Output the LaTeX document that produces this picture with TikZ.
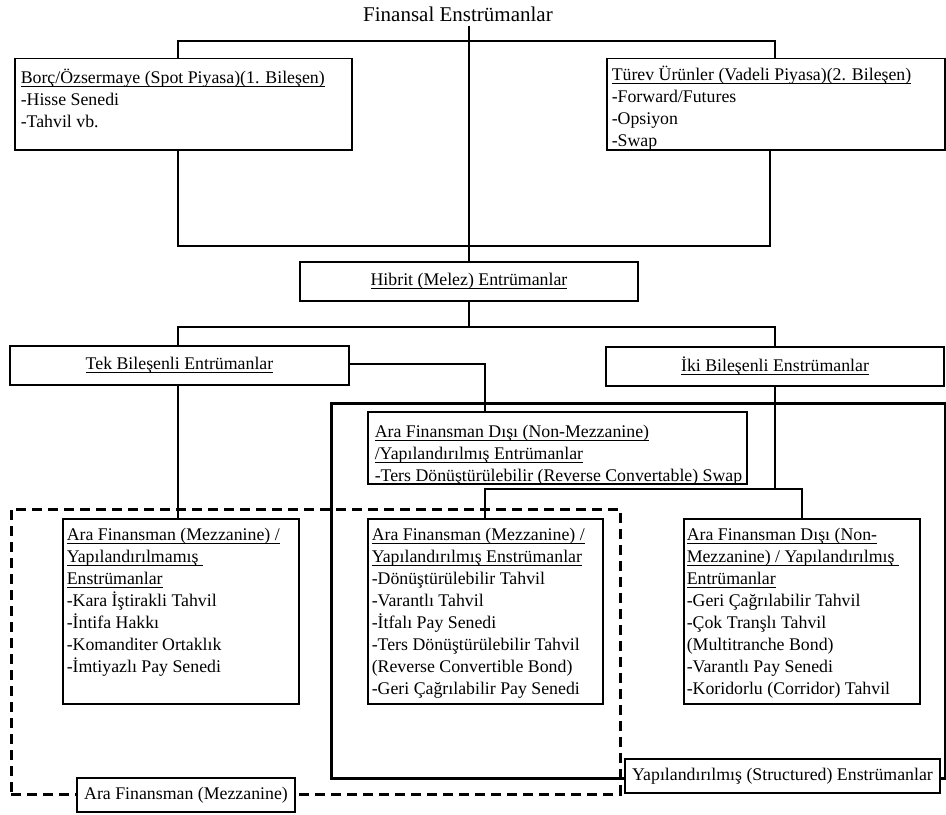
\documentclass[tikz,border=0pt]{standalone}
\usepackage{fontspec}
\setmainfont{Liberation Serif}
% underline at a fixed depth below the baseline
\newcommand\uln[1]{\setbox0\hbox{#1}\rlap{\rule[-3bp]{\wd0}{0.9bp}}\box0}
\begin{document}
\begin{tikzpicture}[x=1bp,y=-1bp,
  line width=1.5bp,
  boxframe/.style={draw, rectangle, inner sep=0pt, anchor=north west, fill=white},
  boxtext/.style={inner sep=0pt, anchor=north west, align=left,
    font=\fontsize{17.8bp}{22bp}\selectfont},
  labelbox/.style={draw, rectangle, inner sep=0pt, fill=white,
    font=\fontsize{17.8bp}{22bp}\selectfont},
  structframe/.style={draw, rectangle, inner sep=0pt, anchor=north west, line width=2.6bp},
  mezzframe/.style={draw, rectangle, inner sep=0pt, anchor=north west, line width=2.6bp,
    dash pattern=on 10bp off 6bp},
  link/.style={draw, line width=1.5bp}]

\useasboundingbox (0,0) rectangle (946,815);

% group frames
\node[structframe, minimum width=614bp, minimum height=375bp] (structured) at (330,402) {};
\node[mezzframe, minimum width=609bp, minimum height=285bp] (mezzanine) at (10,508) {};

% title
\node[inner sep=3bp, anchor=base, font=\fontsize{21bp}{24bp}\selectfont] (title) at (458,21.7) {Finansal Enstrümanlar};

% first level
\node[boxframe, minimum width=337bp, minimum height=91bp] (borc) at (14,58) {};
\node[boxtext] (borctxt) at (20,67.6) {\strut\uln{Borç/Özsermaye (Spot Piyasa)(1. Bileşen)}\\-Hisse Senedi\\-Tahvil vb.};

\node[boxframe, minimum width=338bp, minimum height=91bp] (turev) at (606,58) {};
\node[boxtext] (turevtxt) at (611,64.6) {\strut\uln{Türev Ürünler (Vadeli Piyasa)(2. Bileşen)}\\-Forward/Futures\\-Opsiyon\\-Swap};

% hybrid level
\node[labelbox, minimum width=338bp, minimum height=39bp] (hib) at (469,281.5) {\uln{Hibrit (Melez) Entrümanlar}};
\node[labelbox, minimum width=339bp, minimum height=39bp] (tek) at (179.5,365.5) {\uln{Tek Bileşenli Entrümanlar}};
\node[labelbox, minimum width=338bp, minimum height=39bp] (iki) at (775,366.5) {\uln{İki Bileşenli Enstrümanlar}};

% lower boxes
\node[boxframe, minimum width=379bp, minimum height=72bp] (nm1) at (367,411) {};
\node[boxtext] (nm1txt) at (374,421.6) {\strut\uln{Ara Finansman Dışı (Non-Mezzanine)}\\\uln{/Yapılandırılmış Entrümanlar}\\-Ters Dönüştürülebilir (Reverse Convertable) Swap};

\node[boxframe, minimum width=236bp, minimum height=185bp] (mezL) at (62,518) {};
\node[boxtext] (mezLtxt) at (66,524.6) {\strut\uln{Ara Finansman (Mezzanine) /}\\\uln{Yapılandırılmamış\ }\\\uln{Enstrümanlar}\\-Kara İştirakli Tahvil\\-İntifa Hakkı\\-Komanditer Ortaklık\\-İmtiyazlı Pay Senedi};

\node[boxframe, minimum width=235bp, minimum height=185bp] (mezM) at (367,518) {};
\node[boxtext] (mezMtxt) at (371,524.6) {\strut\uln{Ara Finansman (Mezzanine) /}\\\uln{Yapılandırılmış Enstrümanlar}\\-Dönüştürülebilir Tahvil\\-Varantlı Tahvil\\-İtfalı Pay Senedi\\-Ters Dönüştürülebilir Tahvil\\(Reverse Convertible Bond)\\-Geri Çağrılabilir Pay Senedi};

\node[boxframe, minimum width=236bp, minimum height=185bp] (nmR) at (683,518) {};
\node[boxtext] (nmRtxt) at (686,524.6) {\strut\uln{Ara Finansman Dışı (Non-}\\\uln{Mezzanine) / Yapılandırılmış\ }\\\uln{Entrümanlar}\\-Geri Çağrılabilir Tahvil\\-Çok Tranşlı Tahvil\\(Multitranche Bond)\\-Varantlı Pay Senedi\\-Koridorlu (Corridor) Tahvil};

% frame labels
\node[labelbox, minimum width=315bp, minimum height=34bp] (structlabel) at (782.5,776) {Yapılandırılmış (Structured) Enstrümanlar};
\node[labelbox, minimum width=218bp, minimum height=34bp] (mezzlabel) at (186,795) {Ara Finansman (Mezzanine)};

% junction points
\coordinate (topL) at (178,41);
\coordinate (topR) at (775,41);
\coordinate (botL) at (178,246);
\coordinate (botR) at (770,246);
\coordinate (hibL) at (178,327);
\coordinate (hibR) at (775,327);
\coordinate (tekJ) at (485,364);
\coordinate (ikiL) at (485,489);
\coordinate (ikiR) at (802,489);

% connectors
\draw[link] (title.south -| hib.north) -- (hib.north);
\draw[link] (borc.north -| topL) -- (topL) -- (topR) -- (turev.north -| topR);
\draw[link] (borc.south -| botL) -- (botL) -- (botR) -- (turev.south -| botR);
\draw[link] (hib.south) -- (hib.south |- hibL);
\draw[link] (tek.north -| hibL) -- (hibL) -- (hibR) -- (iki.north -| hibR);
\draw[link] (tek.east |- tekJ) -- (tekJ) -- (nm1.north -| tekJ);
\draw[link] (iki.south) -- (iki.south |- ikiL);
\draw[link] (mezM.north -| ikiL) -- (ikiL) -- (ikiR) -- (nmR.north -| ikiR);
\draw[link] (tek.south -| hibL) -- (mezL.north -| hibL);
\end{tikzpicture}
\end{document}
